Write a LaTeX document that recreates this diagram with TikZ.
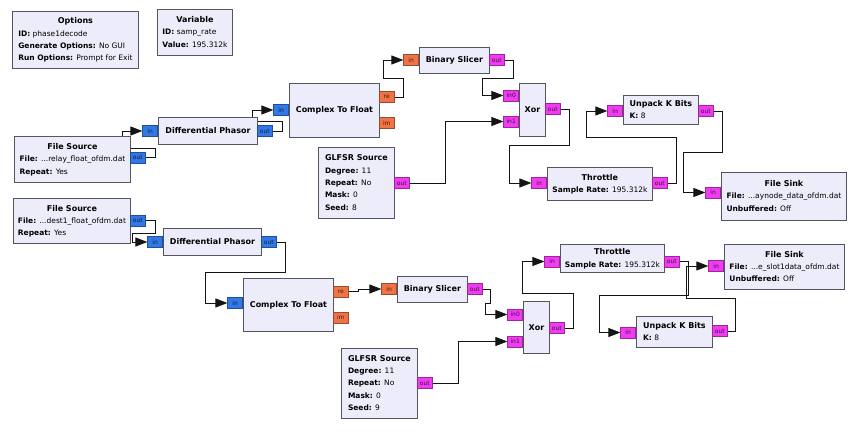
\documentclass[tikz,border=0pt]{standalone}
\usepackage{fontspec}
\setmainfont{DejaVu Sans}
\usetikzlibrary{arrows.meta, backgrounds}
\definecolor{blkF} {RGB}{237, 236, 250}
\definecolor{blkD} {RGB}{ 85,  85,  95}
\definecolor{cplxC}{RGB}{ 50, 120, 230}
\definecolor{fltC} {RGB}{240, 115,  70}
\definecolor{byteC}{RGB}{240,  60, 240}
\definecolor{wireC}{RGB}{ 20,  20,  20}
\newcommand{\blkttl}[1]{\multicolumn{1}{@{}c@{}}{\fontsize{8}{12.3}\selectfont\bfseries #1}}
\tikzset{
  blk/.style  = {rectangle, draw=blkD, fill=blkF, line width=0.9pt,
                 inner sep=0pt, anchor=north west,
                 font=\fontsize{7.5}{12.3}\selectfont},
  one/.style  = {font=\fontsize{8}{10}\selectfont\bfseries},
  bsz/.style 2 args = {minimum width=#1pt, minimum height=#2pt},
  port/.style = {rectangle, draw=#1!65!black, fill=#1, line width=0.6pt,
                 minimum width=15pt, minimum height=11pt, inner sep=0pt,
                 font=\fontsize{6}{6}\selectfont, text=#1!25!black},
  pin/.style  = {port=#1, anchor=east},
  pout/.style = {port=#1, anchor=west},
  wire/.style = {draw=wireC, line width=0.8pt,
                 -{Triangle[length=12pt, width=9pt]}},
}

\begin{document}
\begin{tikzpicture}[x=1pt, y=-1pt]
\useasboundingbox (0,0) rectangle (855,447);

% ---- Options and variable ---------------------------------------------------
\node[blk, bsz={126}{57}] (opt) at (12,11) {\begin{tabular}{@{}l@{}}
  \blkttl{Options}\\
  \textbf{ID:} phase1decode\\
  \textbf{Generate Options:} No GUI\\
  \textbf{Run Options:} Prompt for Exit\end{tabular}};

\node[blk, bsz={75}{46}] (var) at (157,9) {\begin{tabular}{@{}l@{}}
  \blkttl{Variable}\\
  \textbf{ID:} samp\_rate\\
  \textbf{Value:} 195.312k\end{tabular}};

% ---- Upper chain: blocks ----------------------------------------------------
\node[blk, bsz={116}{46}] (fs1) at (14,136) {\begin{tabular}{@{}l@{}}
  \blkttl{File Source}\\
  \textbf{File:} ...relay\_float\_ofdm.dat\\
  \textbf{Repeat:} Yes\end{tabular}};

\node[blk, one, bsz={99}{27}] (dp1) at (158,117) {Differential Phasor};
\node[blk, one, bsz={90}{54}] (ctf1) at (289,83) {Complex To Float};
\node[blk, one, bsz={70}{26}] (bs1) at (419,47) {Binary Slicer};
\node[blk, one, bsz={26}{53}] (x1) at (519,83) {Xor};

\node[blk, bsz={76}{71}] (gl1) at (318,147) {\begin{tabular}{@{}l@{}}
  \blkttl{GLFSR Source}\\
  \textbf{Degree:} 11\\
  \textbf{Repeat:} No\\
  \textbf{Mask:} 0\\
  \textbf{Seed:} 8\end{tabular}};

\node[blk, bsz={105}{33}] (th1) at (547,167) {\begin{tabular}{@{}l@{}}
  \blkttl{Throttle}\\
  \textbf{Sample Rate:} 195.312k\end{tabular}};

\node[blk, bsz={75}{29}] (up1) at (623,95) {\begin{tabular}{@{}l@{}}
  \blkttl{Unpack K Bits}\\
  \textbf{K:} 8\end{tabular}};

\node[blk, bsz={125}{48}] (fk1) at (721,172) {\begin{tabular}{@{}l@{}}
  \blkttl{File Sink}\\
  \textbf{File:} ...aynode\_data\_ofdm.dat\\
  \textbf{Unbuffered:} Off\end{tabular}};

% ---- Upper chain: ports -----------------------------------------------------
\node[pout=cplxC] (fs1o) at (130,157.5) {out};
\node[pin=cplxC]  (dp1i) at (158,131) {in};
\node[pout=cplxC] (dp1o) at (257,131) {out};
\node[pin=cplxC]  (ctf1i) at (289,110) {in};
\node[pout=fltC]  (ctf1re) at (379,97) {re};
\node[pout=fltC]  (ctf1im) at (379,123) {im};
\node[pin=fltC]   (bs1i) at (419,60) {in};
\node[pout=byteC] (bs1o) at (489,60) {out};
\node[pin=byteC]  (x1i0) at (519,95.5) {in0};
\node[pin=byteC]  (x1i1) at (519,121.5) {in1};
\node[pout=byteC] (x1o) at (545,109) {out};
\node[pout=byteC] (gl1o) at (394,183) {out};
\node[pin=byteC]  (th1i) at (547,183) {in};
\node[pout=byteC] (th1o) at (652,183) {out};
\node[pin=byteC]  (up1i) at (623,111) {in};
\node[pout=byteC] (up1o) at (698,111) {out};
\node[pin=byteC]  (fk1i) at (721,192.5) {in};

% ---- Lower chain: blocks ----------------------------------------------------
\node[blk, bsz={117}{45}] (fs2) at (13,198) {\begin{tabular}{@{}l@{}}
  \blkttl{File Source}\\
  \textbf{File:} ...dest1\_float\_ofdm.dat\\
  \textbf{Repeat:} Yes\end{tabular}};

\node[blk, one, bsz={98}{27}] (dp2) at (163,228) {Differential Phasor};
\node[blk, one, bsz={90}{53}] (ctf2) at (243,278) {Complex To Float};
\node[blk, one, bsz={70}{26}] (bs2) at (397,276) {Binary Slicer};
\node[blk, one, bsz={26}{52}] (x2) at (523,301) {Xor};

\node[blk, bsz={76}{70}] (gl2) at (341,348) {\begin{tabular}{@{}l@{}}
  \blkttl{GLFSR Source}\\
  \textbf{Degree:} 11\\
  \textbf{Repeat:} No\\
  \textbf{Mask:} 0\\
  \textbf{Seed:} 9\end{tabular}};

\node[blk, bsz={104}{28}] (th2) at (560,244) {\begin{tabular}{@{}l@{}}
  \blkttl{Throttle}\\
  \textbf{Sample Rate:} 195.312k\end{tabular}};

\node[blk, bsz={76}{31}] (up2) at (636,316) {\begin{tabular}{@{}l@{}}
  \blkttl{Unpack K Bits}\\
  \textbf{K:} 8\end{tabular}};

\node[blk, bsz={120}{45}] (fk2) at (724,244) {\begin{tabular}{@{}l@{}}
  \blkttl{File Sink}\\
  \textbf{File:} ...e\_slot1data\_ofdm.dat\\
  \textbf{Unbuffered:} Off\end{tabular}};

% ---- Lower chain: ports -----------------------------------------------------
\node[pout=cplxC] (fs2o) at (130,220.5) {out};
\node[pin=cplxC]  (dp2i) at (163,242) {in};
\node[pout=cplxC] (dp2o) at (261,242) {out};
\node[pin=cplxC]  (ctf2i) at (243,303) {in};
\node[pout=fltC]  (ctf2re) at (333,291.5) {re};
\node[pout=fltC]  (ctf2im) at (333,317.5) {im};
\node[pin=fltC]   (bs2i) at (397,289) {in};
\node[pout=byteC] (bs2o) at (467,289) {out};
\node[pin=byteC]  (x2i0) at (523,314.5) {in0};
\node[pin=byteC]  (x2i1) at (523,341.5) {in1};
\node[pout=byteC] (x2o) at (549,328) {out};
\node[pout=byteC] (gl2o) at (417,383) {out};
\node[pin=byteC]  (th2i) at (560,261.5) {in};
\node[pout=byteC] (th2o) at (664,261.5) {out};
\node[pin=byteC]  (up2i) at (636,332.5) {in};
\node[pout=byteC] (up2o) at (712,331) {out};
\node[pin=byteC]  (fk2i) at (724,266) {in};

% ---- Connections (behind the blocks) ----------------------------------------
\begin{scope}[on background layer]
  \fill[white] (0,0) rectangle (855,447);
  % upper chain
  \draw[wire] (fs1o.east) -| (155,148) -| (122,131) -- (dp1i.west);
  \draw[wire] (dp1o.east) -| (282,121) -| (252,110) -- (ctf1i.west);
  \draw[wire] (ctf1re.east) -| (403,78) -| (383,60) -- (bs1i.west);
  \draw[wire] (bs1o.east) -| (513,78) -| (482,95.5) -- (x1i0.west);
  \draw[wire] (gl1o.east) -| (445,121.5) -- (x1i1.west);
  \draw[wire] (x1o.east) -| (569,145) -| (509,183) -- (th1i.west);
  \draw[wire] (th1o.east) -| (676,137) -| (586,111) -- (up1i.west);
  \draw[wire] (up1o.east) -| (722,152) -| (683,192.5) -- (fk1i.west);
  % lower chain
  \draw[wire] (fs2o.east) -| (155,233) -| (132,242) -- (dp2i.west);
  \draw[wire] (dp2o.east) -| (285,272) -| (205,303) -- (ctf2i.west);
  \draw[wire] (ctf2re.east) -| (358,289) -- (bs2i.west);
  \draw[wire] (bs2o.east) -| (490,303) -| (485,314.5) -- (x2i0.west);
  \draw[wire] (gl2o.east) -| (458,341.5) -- (x2i1.west);
  \draw[wire] (x2o.east) -| (573,293) -| (522,261.5) -- (th2i.west);
  \draw[wire] (th2o.east) -| (688,295) -| (599,332.5) -- (up2i.west);
  \draw[wire] (up2o.east) -| (735,298) -| (686,266) -- (fk2i.west);
\end{scope}

\end{tikzpicture}
\end{document}
